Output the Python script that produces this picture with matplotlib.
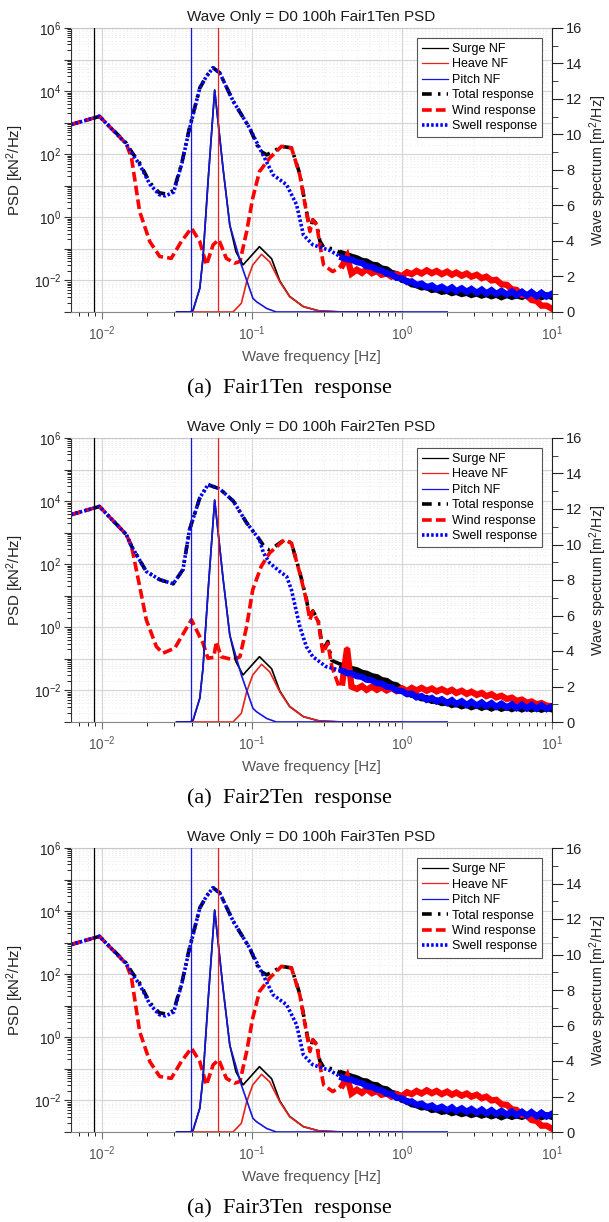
import numpy as np
import matplotlib
matplotlib.use('Agg')
import matplotlib.pyplot as plt
from matplotlib.ticker import FixedLocator, FuncFormatter, MultipleLocator, LogLocator, NullFormatter

plt.rcParams['font.family'] = ['Liberation Sans', 'DejaVu Sans']
plt.rcParams['mathtext.fontset'] = 'custom'
plt.rcParams['mathtext.rm'] = 'Liberation Sans'
plt.rcParams['mathtext.default'] = 'rm'
plt.rcParams['lines.scale_dashes'] = False

titles = ['Wave Only = D0 100h Fair1Ten PSD',
          'Wave Only = D0 100h Fair2Ten PSD',
          'Wave Only = D0 100h Fair3Ten PSD']
captions = ['(a)  Fair1Ten  response', '(a)  Fair2Ten  response', '(a)  Fair3Ten  response']

# natural frequencies [Hz]
surge_nf = 0.0088
pitch_nf = 0.039
heave_nf = 0.059

# wave spectra [m^2/Hz] (right axis), same in all three cases
swell_spec_f = [0.0314, 0.0387, 0.0404, 0.0448, 0.0470, 0.0508, 0.0563, 0.0640, 0.0710,
                0.0848, 0.1013, 0.1070, 0.1250, 0.1450, 2.0]
swell_spec = [0, 0, 0.10, 1.34, 3.0, 7.3, 12.5, 8.1, 4.9, 2.65, 0.77, 0.58, 0.20, 0.0, 0.0]
wind_spec_f = [0.0387, 0.0746, 0.0848, 0.092, 0.101, 0.1156, 0.131, 0.153, 0.178, 0.22, 0.28, 0.40, 1.0]
wind_spec = [0, 0, 0.49, 1.7, 2.65, 3.25, 2.83, 1.7, 0.86, 0.30, 0.06, 0.0, 0.0]
total_spec_f = [0.0314, 0.0387, 0.0404, 0.0448, 0.0470, 0.0508, 0.0563, 0.0640, 0.0710, 0.078,
                0.087, 0.112, 0.135, 0.153, 0.178, 0.22, 0.28, 0.40]
total_spec = [0, 0, 0.10, 1.34, 3.0, 7.3, 12.5, 8.1, 4.9, 3.4, 2.65, 3.68, 3.0, 1.75, 0.88, 0.30, 0.06, 0.0]

# high frequency part (noisy tail) frequencies
hf_f = [0.40, 0.43, 0.46, 0.50, 0.54, 0.58, 0.63, 0.68, 0.73, 0.79, 0.85, 0.92, 1.0, 1.08,
        1.16, 1.25, 1.35, 1.46, 1.58, 1.7, 1.84, 2.0, 2.15, 2.3, 2.5, 2.7, 2.9, 3.15, 3.4,
        3.65, 3.95, 4.25, 4.6, 5.0, 5.4, 5.8, 6.3, 6.8, 7.3, 7.9, 8.5, 9.2, 10.0]

# ---- Fair1Ten : log10 PSD [kN^2/Hz] ----
swell1_f = [0.0062, 0.0096, 0.0145, 0.0157, 0.0178, 0.0208, 0.0240, 0.0265, 0.0300, 0.0340,
            0.0380, 0.0448, 0.0496, 0.0549, 0.0608, 0.0748, 0.0963, 0.115, 0.138, 0.170,
            0.198, 0.220, 0.254, 0.330]
swell1 = [2.94, 3.20, 2.33, 2.04, 1.67, 1.05, 0.72, 0.68, 0.80, 1.70, 2.75, 4.10, 4.47, 4.74,
          4.58, 3.68, 2.83, 2.09, 1.35, 1.03, 0.40, -0.56, -0.87, -1.05]
swell1_hf = [-1.28, -1.33, -1.34, -1.42, -1.45, -1.55, -1.57, -1.66, -1.68, -1.78, -1.80, -1.92,
             -1.93, -2.05, -2.03, -2.14, -2.10, -2.22, -2.16, -2.27, -2.20, -2.31, -2.22, -2.34,
             -2.25, -2.36, -2.27, -2.39, -2.29, -2.41, -2.31, -2.43, -2.33, -2.45, -2.35, -2.47,
             -2.36, -2.48, -2.37, -2.50, -2.39, -2.51, -2.42]
total1_f = [0.0062, 0.0096, 0.0145, 0.0157, 0.0178, 0.0208, 0.0240, 0.0265, 0.0300, 0.0340,
            0.0380, 0.0448, 0.0496, 0.0549, 0.0608, 0.0748, 0.0963, 0.112, 0.125, 0.140,
            0.157, 0.183, 0.208, 0.230, 0.243, 0.254, 0.270, 0.283, 0.300, 0.345]
total1 = [2.94, 3.20, 2.35, 2.08, 1.72, 1.10, 0.78, 0.74, 0.85, 1.72, 2.78, 4.10, 4.47, 4.74,
          4.58, 3.68, 2.83, 2.12, 1.98, 2.10, 2.25, 2.20, 1.38, 0.22, -0.40, -0.08, -0.22,
          -0.75, -0.95, -1.00]
total1_hf = [-1.15, -1.20, -1.25, -1.30, -1.38, -1.40, -1.50, -1.52, -1.62, -1.65, -1.76, -1.80,
             -1.98, -2.02, -2.12, -2.15, -2.22, -2.20, -2.30, -2.28, -2.36, -2.33, -2.40, -2.36,
             -2.43, -2.39, -2.46, -2.41, -2.48, -2.43, -2.50, -2.45, -2.53, -2.46, -2.52, -2.47,
             -2.52, -2.46, -2.52, -2.47, -2.53, -2.47, -2.52]
wind1_f = [0.0062, 0.0096, 0.0145, 0.0157, 0.0178, 0.0208, 0.0242, 0.0289, 0.0337, 0.0394,
           0.0448, 0.0496, 0.0550, 0.0600, 0.0673, 0.0766, 0.0830, 0.0920, 0.101, 0.112,
           0.131, 0.157, 0.183, 0.208, 0.230, 0.243, 0.254, 0.270, 0.283, 0.300, 0.345]
wind1 = [2.94, 3.20, 2.33, 1.88, 0.18, -0.77, -1.24, -1.30, -0.77, -0.34, -0.77, -1.51, -0.87,
         -0.71, -1.30, -1.45, -1.40, -0.45, 0.61, 1.45, 1.88, 2.25, 2.20, 1.35, 0.18, -0.45,
         -0.08, -0.24, -0.87, -1.51, -1.72]
wind1_hf = [-1.52, -1.25, -1.78, -1.66, -1.76, -1.64, -1.77, -1.70, -1.82, -1.78, -1.88, -1.80,
            -1.86, -1.74, -1.80, -1.70, -1.78, -1.68, -1.77, -1.70, -1.80, -1.72, -1.82, -1.75,
            -1.85, -1.78, -1.88, -1.82, -1.93, -1.88, -2.00, -1.98, -2.12, -2.14, -2.28, -2.30,
            -2.46, -2.48, -2.62, -2.65, -2.80, -2.80, -2.90]

# ---- Fair2Ten ----
swell2_f = [0.0062, 0.0096, 0.0145, 0.0157, 0.0197, 0.0242, 0.0298, 0.0346, 0.0383, 0.0448,
            0.0508, 0.0608, 0.075, 0.092, 0.112, 0.119, 0.131, 0.153, 0.170, 0.183, 0.208,
            0.230, 0.254, 0.310]
swell2 = [3.57, 3.83, 2.94, 2.57, 1.77, 1.51, 1.38, 1.83, 3.10, 4.10, 4.52, 4.39, 4.00, 3.31,
          2.78, 2.36, 2.04, 1.77, 1.61, 1.19, 0.03, -0.61, -0.93, -1.24]
swell2_hf = [-1.38, -1.45, -1.46, -1.55, -1.57, -1.66, -1.68, -1.77, -1.78, -1.88, -1.90, -2.00,
             -2.02, -2.12, -2.10, -2.22, -2.18, -2.30, -2.24, -2.35, -2.28, -2.40, -2.31, -2.43,
             -2.34, -2.46, -2.36, -2.48, -2.38, -2.50, -2.40, -2.52, -2.42, -2.54, -2.44, -2.56,
             -2.45, -2.57, -2.46, -2.58, -2.47, -2.59, -2.50]
total2_f = [0.0062, 0.0096, 0.0145, 0.0157, 0.0197, 0.0242, 0.0298, 0.0346, 0.0383, 0.0448,
            0.0508, 0.0608, 0.075, 0.092, 0.112, 0.122, 0.131, 0.165, 0.183, 0.208, 0.230,
            0.243, 0.254, 0.276, 0.297, 0.320, 0.340, 0.380]
total2 = [3.57, 3.83, 2.94, 2.57, 1.77, 1.51, 1.38, 1.83, 3.10, 4.10, 4.52, 4.39, 4.00, 3.31,
          2.78, 2.52, 2.45, 2.78, 2.67, 1.75, 0.90, 0.30, 0.52, 0.22, -0.72, -0.45, -1.05, -1.15]
total2_hf = [-1.22, -1.25, -1.32, -1.36, -1.44, -1.47, -1.55, -1.58, -1.67, -1.70, -1.80, -1.84,
             -1.98, -2.05, -2.14, -2.17, -2.25, -2.24, -2.33, -2.32, -2.40, -2.38, -2.46, -2.42,
             -2.50, -2.45, -2.53, -2.47, -2.55, -2.49, -2.57, -2.50, -2.58, -2.52, -2.59, -2.53,
             -2.60, -2.54, -2.60, -2.55, -2.61, -2.55, -2.60]
wind2_f = [0.0062, 0.0096, 0.0145, 0.0157, 0.0178, 0.0197, 0.0230, 0.0254, 0.0305, 0.0394,
           0.0470, 0.0508, 0.0555, 0.0578, 0.0620, 0.0750, 0.0830, 0.0920, 0.101, 0.115,
           0.131, 0.165, 0.183, 0.208, 0.230, 0.243, 0.254, 0.276, 0.297, 0.320, 0.340, 0.380]
wind2 = [3.57, 3.83, 2.94, 2.57, 1.30, 0.24, -0.61, -0.82, -0.66, 0.24, -0.50, -0.98, -0.95,
         -0.45, -0.93, -1.03, -0.93, 0.03, 1.19, 1.93, 2.36, 2.78, 2.67, 1.72, 0.87, 0.24,
         0.50, 0.18, -0.82, -0.50, -1.24, -1.88]
wind2_hf = [-1.75, -0.66, -1.88, -1.95, -1.86, -1.98, -1.88, -1.98, -1.90, -2.00, -1.92, -2.02,
            -1.93, -2.02, -1.92, -2.00, -1.92, -2.01, -1.94, -2.03, -1.96, -2.05, -1.98, -2.08,
            -2.01, -2.11, -2.04, -2.14, -2.08, -2.18, -2.12, -2.22, -2.17, -2.27, -2.23, -2.33,
            -2.29, -2.39, -2.35, -2.44, -2.40, -2.48, -2.50]

# ---- Fair3Ten (reads the same as Fair1Ten) ----
swell3_f, swell3, swell3_hf = swell1_f, swell1, swell1_hf
total3_f, total3, total3_hf = total1_f, total1, total1_hf
wind3_f, wind3, wind3_hf = wind1_f, wind1, wind1_hf

cases = [(swell1_f, swell1, swell1_hf, total1_f, total1, total1_hf, wind1_f, wind1, wind1_hf),
         (swell2_f, swell2, swell2_hf, total2_f, total2, total2_hf, wind2_f, wind2, wind2_hf),
         (swell3_f, swell3, swell3_hf, total3_f, total3, total3_hf, wind3_f, wind3, wind3_hf)]

W, H = 609, 1222
fig = plt.figure(figsize=(W / 100, H / 100), dpi=100)

ax_left, ax_w, ax_h = 71, 481, 284
ax_tops = [28, 438, 848]


def logfmt(v, pos):
    e = int(round(np.log10(v)))
    return r'$10^{%d}$' % e if e % 2 == 0 else ''


def panel(top, data, title, caption):
    (sf, sv, shf, tf, tv, thf, wf, wv, whf) = data
    ax = fig.add_axes([ax_left / W, 1 - (top + ax_h) / H, ax_w / W, ax_h / H])
    ax.set_xscale('log')
    ax.set_yscale('log')

    styles = [(tf, tv, thf, 'black', (0, (7, 4.5, 1.8, 4.5))),
              (wf, wv, whf, 'red', (0, (7, 3))),
              (sf, sv, shf, 'blue', (0, (1.8, 1.5)))]
    handles = []
    for f, v, vhf, col, ls in styles:
        x = np.array(list(f) + hf_f)
        y = 10.0 ** np.array(list(v) + list(vhf))
        ln, = ax.plot(x, y, color=col, lw=2.6, linestyle=ls, dash_capstyle='butt')
        ax.plot(hf_f, 10.0 ** np.array(vhf), color=col, lw=4.5, solid_joinstyle='miter')
        handles.append(ln)

    ax.set_xlim(0.0062, 10)
    ax.set_ylim(1e-3, 1e6)
    ax.xaxis.set_major_locator(FixedLocator([1e-2, 1e-1, 1e0, 1e1]))
    ax.xaxis.set_minor_locator(LogLocator(base=10, subs=np.arange(2, 10), numticks=20))
    ax.xaxis.set_major_formatter(FuncFormatter(lambda v, p: r'$10^{%d}$' % int(round(np.log10(v)))))
    ax.xaxis.set_minor_formatter(NullFormatter())
    ax.yaxis.set_major_locator(FixedLocator([10.0 ** k for k in range(-3, 7)]))
    ax.yaxis.set_minor_locator(LogLocator(base=10, subs=np.arange(2, 10), numticks=20))
    ax.yaxis.set_major_formatter(FuncFormatter(logfmt))
    ax.yaxis.set_minor_formatter(NullFormatter())
    ax.grid(True, which='major', color='#d4d4d4', lw=0.8)
    ax.grid(True, which='minor', color='#e8e8e8', lw=0.5, linestyle=':')
    ax.set_axisbelow(True)
    ax.tick_params(axis='both', which='major', direction='out', length=5, labelsize=9.8)
    ax.tick_params(axis='both', which='minor', direction='out', length=3)
    ax.tick_params(axis='x', colors='#777777', labelcolor='#555555', pad=4)
    ax.tick_params(axis='y', colors='#333333', labelcolor='#222222', pad=2)
    ax.spines['top'].set_color('#c8c8c8')
    ax.spines['bottom'].set_color('#888888')
    ax.spines['left'].set_color('#333333')
    ax.spines['right'].set_visible(False)
    ax.set_xlabel('Wave frequency [Hz]', fontsize=10.8, color='#555555')
    ax.xaxis.set_label_coords(0.5, -0.135)
    ax.set_ylabel('PSD [kN$^2$/Hz]', fontsize=10.8, color='#222222')
    ax.yaxis.set_label_coords(-0.093, 0.5)

    ax2 = ax.twinx()
    ax2.plot(total_spec_f, total_spec, color='black', lw=1.2)
    ax2.plot(wind_spec_f, wind_spec, color='#e8231c', lw=1.2)
    ax2.plot(swell_spec_f, swell_spec, color='#1515e0', lw=1.2)
    nf = [ax2.axvline(surge_nf, color='black', lw=0.9),
          ax2.axvline(heave_nf, color='#e8231c', lw=0.9),
          ax2.axvline(pitch_nf, color='#1515e0', lw=0.9)]
    ax2.set_ylim(0, 16)
    ax2.yaxis.set_major_locator(MultipleLocator(2))
    ax2.yaxis.set_minor_locator(MultipleLocator(1))
    ax2.tick_params(axis='y', which='major', direction='out', length=8, labelsize=10.5,
                    colors='#222222', pad=2)
    ax2.tick_params(axis='y', which='minor', direction='out', length=4, colors='#222222')
    for s in ['top', 'left', 'bottom']:
        ax2.spines[s].set_visible(False)
    ax2.spines['right'].set_color('#222222')
    ax2.set_ylabel('Wave spectrum [m$^2$/Hz]', fontsize=10.3, color='#222222')
    ax2.yaxis.set_label_coords(1.074, 0.5)

    leg = ax2.legend(nf + handles,
                     ['Surge NF', 'Heave NF', 'Pitch NF', 'Total response', 'Wind response',
                      'Swell response'],
                     loc='upper right', bbox_to_anchor=(1 - 10 / ax_w, 1 - 10 / ax_h),
                     borderaxespad=0, fontsize=9, handlelength=2.1, handletextpad=0.3,
                     labelspacing=0.28, borderpad=0.4, fancybox=False, framealpha=1)
    leg.get_frame().set_edgecolor('#555555')
    leg.get_frame().set_linewidth(0.8)

    cx = (ax_left + ax_w / 2) / W
    fig.text(cx, 1 - (top - 11) / H, title, ha='center', va='center', fontsize=11, color='#1a1a1a')
    fig.text(289 / W, 1 - (top + 360) / H, caption, ha='center', va='center',
             fontsize=16, family='Liberation Serif', color='black')


for top, data, title, cap in zip(ax_tops, cases, titles, captions):
    panel(top, data, title, cap)

fig.savefig('out.png', dpi=100)
